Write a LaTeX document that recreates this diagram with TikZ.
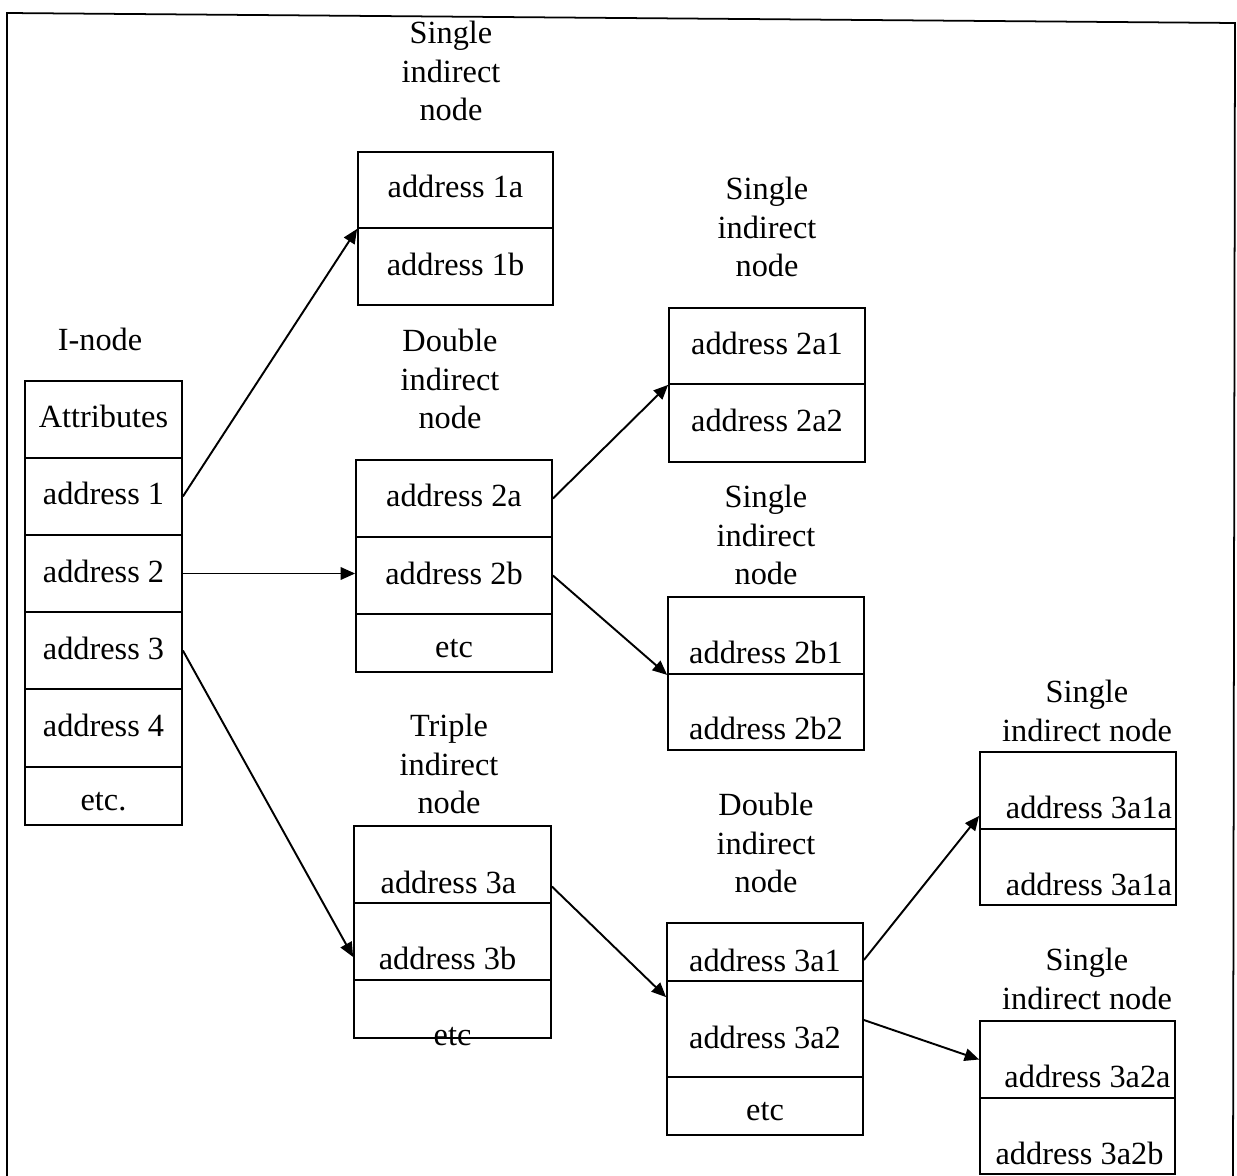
\documentclass[tikz,border=0pt]{standalone}
\usepackage{fontspec}
\setmainfont{Liberation Serif}
\usetikzlibrary{arrows.meta,calc}

% one unit = 0.02cm, y grows downwards
\tikzset{
  x=0.02cm, y=-0.02cm,
  txt/.style={font=\fontsize{18.4pt}{21.85pt}\selectfont},
  cellbox/.style={txt, draw, line width=1pt, inner sep=0pt,
                  text height=0pt, text depth=0pt},
  title/.style={txt, inner sep=0pt, anchor=north, align=center},
  link/.style={line width=1.1pt, -{Triangle[length=0.29cm,width=0.25cm]}},
  frame/.style={line width=1pt},
}

% \cellnode{name}{x1}{y1}{x2}{y2}{baseline below centre}{text}
\newcommand\cellnode[7]{%
  \pgfmathsetlengthmacro\cellshift{-#6*0.56906pt}%
  \node[cellbox,
        minimum width={(#4-#2)*0.02cm}, minimum height={(#5-#3)*0.02cm}]
        (#1) at ({(#2+#4)/2},{(#3+#5)/2}) {\raisebox{\cellshift}{#7}};}

\begin{document}
\begin{tikzpicture}
\useasboundingbox (0,0) rectangle (1237,1176);

% outer frame
\draw[frame] (7,1180) -- (7,13) -- (1235,23) -- (1233,1180);

% I-node
\node[title] (ilab) at (100,328) {I-node};
\cellnode{att}{25}{381}{182}{458}{7.5}{Attributes}
\cellnode{a1}{25}{458}{182}{535}{7.5}{address 1}
\cellnode{a2}{25}{535}{182}{612}{8.5}{address 2}
\cellnode{a3}{25}{612}{182}{689}{8.5}{address 3}
\cellnode{a4}{25}{689}{182}{767}{8}{address 4}
\cellnode{a5}{25}{767}{182}{825}{14}{etc.}

% single indirect node (address 1)
\node[title] (s1lab) at (451,21) {Single\\indirect\\node};
\cellnode{s1a}{358}{152}{553}{228}{8}{address 1a}
\cellnode{s1b}{358}{228}{553}{305}{8.5}{address 1b}

% double indirect node (address 2)
\node[title] (d2lab) at (450,329) {Double\\indirect\\node};
\cellnode{d2a}{356}{460}{552}{537}{7.5}{address 2a}
\cellnode{d2b}{356}{537}{552}{614}{8.5}{address 2b}
\cellnode{d2c}{356}{614}{552}{672}{14}{etc}

% single indirect node (address 2a)
\node[title] (s2alab) at (767,177) {Single\\indirect\\node};
\cellnode{s2a1}{669}{308}{865}{384}{8}{address 2a1}
\cellnode{s2a2}{669}{384}{865}{462}{8}{address 2a2}

% single indirect node (address 2b)
\node[title] (s2blab) at (766,485) {Single\\indirect\\node};
\cellnode{s2b1}{668}{597}{864}{674}{27.5}{address 2b1}
\cellnode{s2b2}{668}{674}{864}{750}{27}{address 2b2}

% triple indirect node (address 3)
\node[title] (t3lab) at (449,714) {Triple\\indirect\\node};
\cellnode{t3a}{354}{826}{551}{903}{28.5}{address 3a\hspace*{4.6pt}}
\cellnode{t3b}{354}{903}{551}{980}{27.5}{address 3b\hspace*{5.7pt}}
\cellnode{t3c}{354}{980}{551}{1038}{36}{etc}

% double indirect node (address 3a)
\node[title] (dd3lab) at (766,793) {Double\\indirect\\node};
\cellnode{dd1}{667}{923}{863}{981}{19}{address 3a1}
\cellnode{dd2}{667}{981}{863}{1077}{19}{address 3a2}
\cellnode{dd3}{667}{1077}{863}{1135}{14}{etc}

% single indirect node (address 3a1)
\node[title] (s3alab) at (1087,680) {Single\\indirect node};
\cellnode{s3a1a}{980}{752}{1176}{829}{27.5}{\hspace*{12.5pt}address 3a1a}
\cellnode{s3a1b}{980}{829}{1176}{905}{28}{\hspace*{12.5pt}address 3a1a}

% single indirect node (address 3a2)
\node[title] (s3blab) at (1087,948) {Single\\indirect node};
\cellnode{s3a2a}{980}{1021}{1175}{1098}{27.5}{\hspace*{11.4pt}address 3a2a}
\cellnode{s3a2b}{980}{1098}{1175}{1174}{28}{\hspace*{2.3pt}address 3a2b}

% pointers
\draw[link] (a1.east) -- (s1a.south west);
\draw[link] (a2.east) -- (a2.east -| d2b.west);
\draw[link] (a3.east) -- ($(t3b.west)+(0,15.5)$);
\draw[link] (d2a.east) -- (s2a1.south west);
\draw[link] (d2b.east) -- (s2b1.south west);
\draw[link] ($(t3a.east)+(0,22)$) -- ($(dd2.north west)+(0,17)$);
\draw[link] ($(dd1.east)+(0,8)$) -- ($(s3a1a.south west)+(0,-14)$);
\draw[link] ($(dd2.east)+(0,-9)$) -- (s3a2a.west);
\end{tikzpicture}
\end{document}
